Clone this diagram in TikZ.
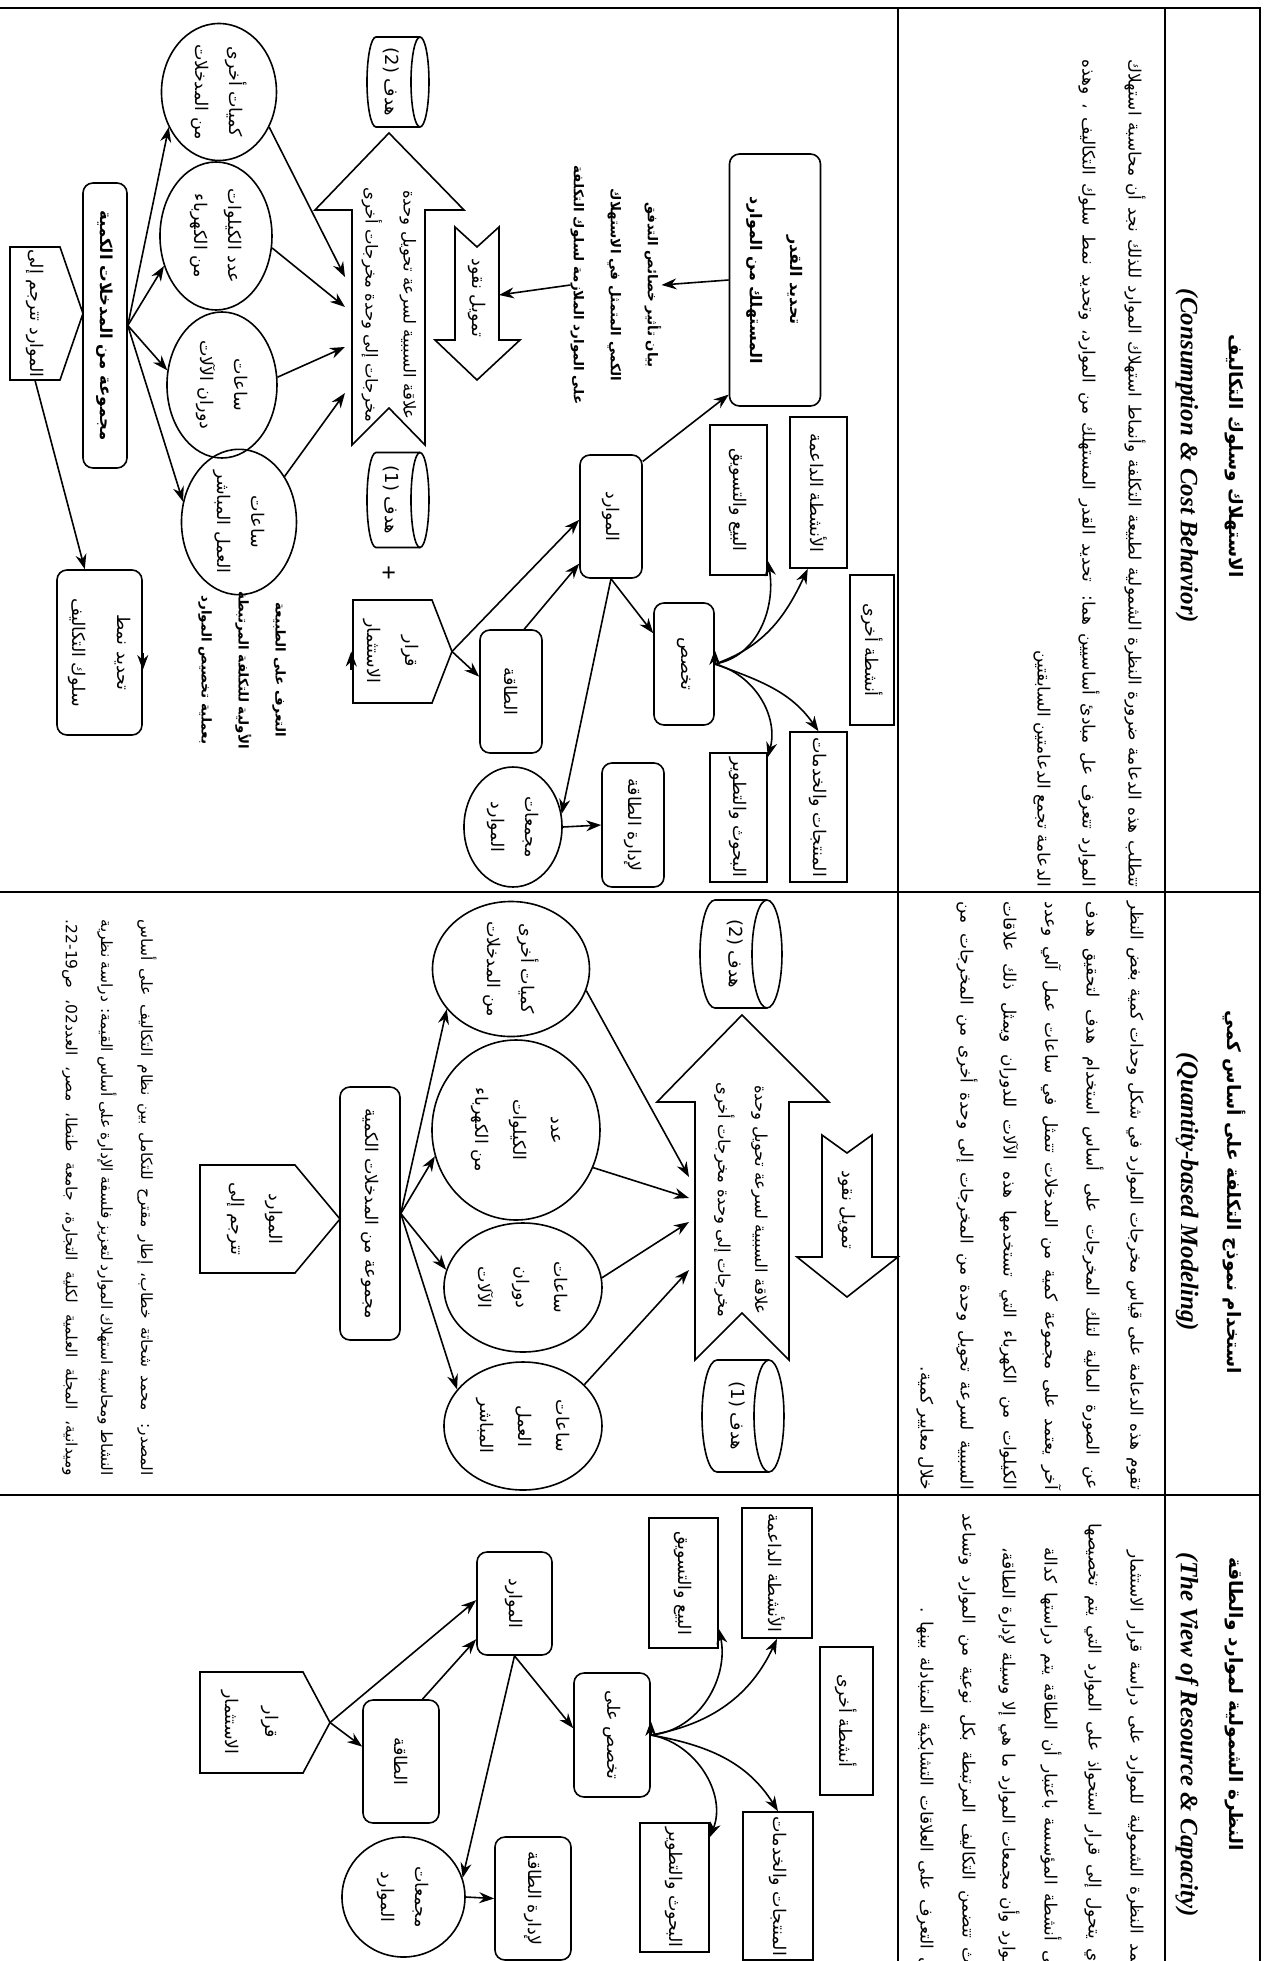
\documentclass[tikz,border=0pt]{standalone}
\usepackage{fontspec}
\setmainfont{Liberation Serif}
\newfontfamily\arabicfont[Script=Arabic]{DejaVu Sans}
\TeXXeTstate=1
\usetikzlibrary{arrows.meta,shapes.geometric,calc}
\newcommand\AR[1]{\beginR#1\endR}
\newcommand\Flab{\arabicfont\fontsize{17.5}{34}\selectfont}
\newcommand\Fthree{\arabicfont\fontsize{17.5}{38}\selectfont}
\newcommand\Fpar{\arabicfont\fontsize{17}{20}\selectfont}
\newcommand\Fnote{\arabicfont\fontsize{15.5}{18}\selectfont}
\newcommand\Ftit{\arabicfont\bfseries\fontsize{18.5}{22}\selectfont}
\newcommand\Feng{\rmfamily\bfseries\itshape\fontsize{25}{28}\selectfont}
\newcommand\Fbld{\arabicfont\bfseries\fontsize{13.5}{37}\selectfont}
\newcommand\Fcyl{\arabicfont\fontsize{18}{20}\selectfont}
\tikzset{
  shp/.style={line width=1.6pt, line join=miter},
  tline/.style={line width=2.2pt},
  arr/.style={line width=1.6pt, -{Stealth[length=15pt,width=11pt]}},
  rbox/.style={draw, line width=1.6pt, rounded corners=10pt, inner sep=1pt, align=center, font=\Flab},
  sbox/.style={draw, line width=1.6pt, inner sep=1pt, align=center, font=\Flab},
  ebox/.style={draw, ellipse, line width=1.6pt, inner sep=0pt, align=center, font=\Flab},
  tbox/.style={inner sep=0pt, align=center, font=\Flab},
  ptxt/.style={inner sep=0pt, font=\Fpar},
}
\begin{document}
\begin{tikzpicture}[x=1pt,y=1pt]
\useasboundingbox (-1267,0) rectangle (0,-1961);
\fill[white] (-1267,0) rectangle (0,-1961);
\clip (-1267,0) rectangle (0,-1961);
\begin{scope}[rotate=-90, transform shape]
% ---------------- table ----------------
\draw[tline] (8,-1300) -- (8,-7) -- (2000,-7);
\draw[tline] (8,-102) -- (2000,-102);
\draw[tline] (8,-369) -- (2000,-369);
\draw[tline] (892,-7) -- (892,-1300);
\draw[tline] (1495,-7) -- (1495,-1300);
% ---------------- headers ----------------
\node[font=\Ftit] (t1) at (456,-33) {\AR{الاستهلاك وسلوك التكاليف}};
\node[font=\Feng] (e1) at (456,-80) {(Consumption \& Cost Behavior)};
\node[font=\Ftit] (t2) at (1192,-33) {\AR{استخدام نموذج التكلفة على أساس كمي}};
\node[font=\Feng] (e2) at (1192,-80) {(Quantity-based Modeling)};
\node[font=\Ftit] (t3) at (1704,-33) {\AR{النظرة الشمولية لموارد والطاقة}};
\node[font=\Feng] (e3) at (1735,-80) {(The View of Resource \& Capacity)};
% ---------------- descriptions ----------------
\node[ptxt,anchor=east] (s1a) at (887,-132) {\hbox to 827pt{\AR{تتطلب هذه الدعامة ضرورة النظرة الشمولية لطبيعة التكلفة وأنماط استهلاك الموارد للذلك نجد أن محاسبة استهلاك}}};
\node[ptxt,anchor=east] (s1b) at (887,-178) {\hbox to 827pt{\AR{الموارد تتعرف عل مبادئ أساسيين هما: تحديد القدر المستهلك من الموارد، وتحديد نمط سلوك التكاليف ، وهذه}}};
\node[ptxt,anchor=east] (s1c) at (887,-225) {\AR{الدعامة تجمع الدعامتين السابقتين}};
\node[ptxt,anchor=east] (s2a) at (1490,-132) {\hbox to 588pt{\AR{تقوم هذه الدعامة على قياس مخرجات الموارد في شكل وحدات كمية بغض النظر}}};
\node[ptxt,anchor=east] (s2b) at (1490,-174) {\hbox to 588pt{\AR{عن الصورة المالية لتلك المخرجات على أساس استخدام هدف لتحقيق هدف}}};
\node[ptxt,anchor=east] (s2c) at (1490,-216) {\hbox to 588pt{\AR{آخر يعتمد على مجموعة كمية من المدخلات تتمثل في ساعات عمل آلي وعدد}}};
\node[ptxt,anchor=east] (s2d) at (1490,-258) {\hbox to 588pt{\AR{الكيلوات من الكهرباء التي تستخدمها هذه الآلات للدوران ويمثل ذلك علاقات}}};
\node[ptxt,anchor=east] (s2e) at (1490,-300) {\hbox to 588pt{\AR{السببية لسرعة تحويل وحدة من المخرجات إلى وحدة أخرى من المخرجات من}}};
\node[ptxt,anchor=east] (s2f) at (1490,-342) {\AR{خلال معايير كمية.}};
\node[ptxt,anchor=west] (s3a) at (1550,-132) {\hbox to 430pt{\AR{تعتمد النظرة الشمولية للموارد على دراسة قرار الاستثمار}}};
\node[ptxt,anchor=west] (s3b) at (1523,-174) {\hbox to 457pt{\AR{الذي يتحول إلى قرار استحواذ على الموارد التي يتم تخصيصها}}};
\node[ptxt,anchor=west] (s3c) at (1547,-216) {\hbox to 433pt{\AR{على أنشطة المؤسسة باعتبار أن الطاقة يتم دراستها كدالة}}};
\node[ptxt,anchor=west] (s3d) at (1547,-258) {\hbox to 433pt{\AR{للموارد وأن مجمعات الموارد ما هي إلا وسيلة لإدارة الطاقة،}}};
\node[ptxt,anchor=west] (s3e) at (1513,-300) {\hbox to 467pt{\AR{حيث تتضمن التكاليف المرتبطة بكل نوعية من الموارد وتساعد}}};
\node[ptxt,anchor=west] (s3f) at (1607,-342) {\hbox to 373pt{\AR{في التعرف على العلاقات التشابكية المتبادلة بينها .}}};
% ======================= SECTION 1 diagram =======================
\node[rbox, font=\arabicfont\bfseries\fontsize{16}{40}\selectfont, minimum width=252pt, minimum height=91pt] (A1) at (280,-492) {\AR{تحديد القدر}\\\AR{المستهلك من الموارد}};
\node[tbox, font=\Fbld] (B1) at (285,-651) {\AR{بيان تأثير خصائص التدفق}\\\AR{الكمي المتمثل في الاستهلاك}\\\AR{على الموارد الملازمة لسلوك التكلفة}};
% money arrow
\draw[shp] (227,-768) -- (340,-768) -- (340,-747) -- (380,-790) -- (340,-832) -- (340,-812) -- (227,-812) -- (247,-790) -- cycle;
\node[tbox] (T1) at (298,-790) {\AR{تمويل نقود}};
\coordinate (T1n) at (295,-768);
% big arrow
\draw[shp] (133,-878) -- (210,-803) -- (210,-842) -- (445,-842) -- (408,-878) -- (445,-915) -- (210,-915) -- (210,-952) -- cycle;
\node[tbox, font=\arabicfont\fontsize{16.5}{38}\selectfont] (C1) at (305,-878) {\AR{علاقة السببية لسرعة تحويل وحدة}\\\AR{مخرجات إلى وحدة مخرجات أخرى}};
\coordinate (c1a) at (277,-922);
\coordinate (c1b) at (307,-922);
\coordinate (c1c) at (347,-922);
\coordinate (c1d) at (393,-922);
% cylinders
\draw[shp] (37,-847) -- (37,-891) arc[start angle=180,end angle=360,x radius=45,y radius=9] -- (127,-847);
\draw[shp] (82,-847) ellipse[x radius=45,y radius=9];
\node[tbox,font=\Fcyl] (D2a) at (82,-876) {\AR{هدف \beginL(2)\endL}};
\draw[shp] (452.5,-847) -- (452.5,-891) arc[start angle=180,end angle=360,x radius=47.5,y radius=9] -- (547.5,-847);
\draw[shp] (500,-847) ellipse[x radius=47.5,y radius=9];
\node[tbox,font=\Fcyl] (D1a) at (500,-876) {\AR{هدف \beginL(1)\endL}};
\node[font=\bfseries\fontsize{26}{26}\selectfont, inner sep=0pt] (plus) at (573,-879) {+};
% decision pentagon
\draw[shp] (600,-914) -- (600,-835) -- (651.5,-815) -- (703,-835) -- (703,-914) -- cycle;
\node[tbox, minimum width=103pt, minimum height=79pt, font=\arabicfont\fontsize{17.5}{38}\selectfont] (G1) at (651.5,-876) {\AR{قرار}\\\AR{الاستثمار}};
\coordinate (G1t) at (651.5,-815);
\node[rbox, minimum width=123pt, minimum height=62pt] (H1) at (691.5,-756) {\AR{الطاقة}};
\node[rbox, minimum width=123pt, minimum height=62pt] (I1) at (516.5,-656) {\AR{الموارد}};
\node[rbox, minimum width=122pt, minimum height=60pt] (J1) at (664,-583) {\AR{تخصص}};
\node[ebox, minimum width=120pt, minimum height=98pt] (K1) at (827,-754) {\AR{مجمعات}\\\AR{الموارد}};
\node[rbox, minimum width=124pt, minimum height=62pt] (L1) at (825,-634) {\AR{لإدارة الطاقة}};
\node[sbox, minimum width=151pt, minimum height=57pt] (M1a) at (492.5,-448.5) {\AR{الأنشطة الداعمة}};
\node[sbox, minimum width=150pt, minimum height=57pt] (M1b) at (500,-528.5) {\AR{البيع والتسويق}};
\node[sbox, minimum width=150pt, minimum height=44pt] (M1c) at (650,-395) {\AR{أنشطة أخرى}};
\node[sbox, minimum width=129pt, minimum height=57pt] (M1d) at (817.5,-528.5) {\AR{البحوث والتطوير}};
\node[sbox, minimum width=150pt, minimum height=57pt] (M1e) at (807,-448.5) {\AR{المنتجات والخدمات}};
% lower-left group
\node[rbox, font=\arabicfont\bfseries\fontsize{16.5}{20}\selectfont, minimum width=285pt, minimum height=44pt] (N1) at (325.5,-1162) {\AR{مجموعة من المدخلات الكمية}};
\draw[shp] (247,-1257) -- (247,-1207) -- (313.5,-1184) -- (380,-1207) -- (380,-1257) -- cycle;
\node[tbox, minimum width=133pt, minimum height=50pt] (P1) at (313.5,-1232) {\AR{الموارد تترجم إلى}};
\node[rbox, minimum width=165pt, minimum height=85pt, font=\arabicfont\fontsize{17.5}{45}\selectfont] (Q1) at (652.5,-1167.5) {\AR{تحديد نمط}\\\AR{سلوك التكاليف}};
\node[tbox, font=\Fbld] (R1) at (670,-1025) {\AR{التعرف على الطبيعة}\\\AR{الأولية للتكلفة المرتبطة}\\\AR{بعملية تخصيص الموارد}};
\node[ebox, minimum width=137pt, minimum height=115pt] (E1a) at (92,-1048) {\AR{كميات أخرى}\\\AR{من المدخلات}};
\node[ebox, minimum width=148pt, minimum height=112pt] (E1b) at (236,-1051) {\AR{عدد الكيلوات}\\\AR{من الكهرباء}};
\node[ebox, minimum width=146pt, minimum height=110pt] (E1c) at (385,-1045) {\AR{ساعات}\\\AR{دوران الآلات}};
\node[ebox, minimum width=120pt, minimum height=115pt] (E1d) at (522,-1028) {\AR{ساعات}\\\AR{العمل المباشر}};
% section 1 connectors
\draw[arr] (A1.south) -- (B1.north);
\draw[arr] (B1.south) -- (T1n);
\draw[arr] (I1.150) -- (A1.-22);
\draw[arr] (I1.east) -- (J1.-135);
\draw[arr] (I1.east) -- (K1.105);
\draw[arr] (H1.168) -- (I1.-34);
\draw[arr] (G1t) -- (H1.-115);
\draw[arr] (G1t) -- (I1.-84);
\draw[arr] (J1.north) -- (J1.north -| M1c.south);
\draw[arr] (J1.north) to[out=109,in=-25] (M1a.-8);
\draw[arr] (J1.north) to[out=100,in=10] ($(M1b.north east)+(-15,0)$);
\draw[arr] (J1.north) to[out=75,in=165] ($(M1d.north west)+(5,0)$);
\draw[arr] (J1.north) to[out=70,in=-145] (M1e.west);
\draw[arr] (K1.north) -- (L1.south);
\draw[arr] (P1.east) -- (Q1.190);
\draw[arr] (Q1.north) -- (Q1.north -| R1.south);
\draw[arr] (G1.south -| R1.north) -- (G1.south);
\draw[arr] (N1.north) -- (E1a.-55);
\draw[arr] (N1.north) -- (E1b.-60);
\draw[arr] (N1.north) -- (E1c.-105);
\draw[arr] (N1.north) -- (E1d.-110);
\draw[arr] (E1a.55) -- (c1a);
\draw[arr] (E1b.78) -- (c1b);
\draw[arr] (E1c.98) -- (c1c);
\draw[arr] (E1d.135) -- (c1d);
% ======================= SECTION 2 diagram =======================
\draw[shp] (900,-500) -- (900,-552) arc[start angle=180,end angle=360,x radius=54,y radius=15] -- (1008,-500);
\draw[shp] (954,-500) ellipse[x radius=54,y radius=15];
\node[tbox,font=\Fcyl] (D2b) at (954,-532) {\AR{هدف \beginL(2)\endL}};
\draw[shp] (1360,-498) -- (1360,-550) arc[start angle=180,end angle=360,x radius=56,y radius=15] -- (1472,-498);
\draw[shp] (1416,-498) ellipse[x radius=56,y radius=15];
\node[tbox,font=\Fcyl] (D1b) at (1416,-530) {\AR{هدف \beginL(1)\endL}};
\draw[shp] (1015,-525) -- (1102,-438) -- (1102,-478) -- (1360,-478) -- (1313,-525) -- (1360,-572) -- (1102,-572) -- (1102,-610) -- cycle;
\node[tbox, font=\arabicfont\fontsize{16.5}{37}\selectfont] (C2) at (1200,-526) {\AR{علاقة السببية لسرعة تحويل وحدة}\\\AR{مخرجات إلى وحدة مخرجات أخرى}};
\coordinate (c2a) at (1177,-578);
\coordinate (c2b) at (1198,-578);
\coordinate (c2c) at (1222,-578);
\coordinate (c2d) at (1270,-578);
\draw[shp] (1135,-395) -- (1257,-395) -- (1257,-369) -- (1297,-420) -- (1257,-470) -- (1257,-445) -- (1135,-445) -- (1153,-420) -- cycle;
\node[tbox] (T2) at (1210,-420) {\AR{تمويل نقود}};
\draw[shp] (1165,-1067) -- (1165,-972) -- (1219,-927) -- (1273,-972) -- (1273,-1067) -- cycle;
\node[tbox, font=\Fthree] (P2) at (1219,-1012) {\AR{الموارد}\\\AR{تترجم إلى}};
\node[rbox, minimum width=253pt, minimum height=60pt] (N2) at (1213.5,-897) {\AR{مجموعة من المدخلات الكمية}};
\node[ebox, minimum width=128pt, minimum height=157pt] (E2a) at (969,-756) {\AR{كميات أخرى}\\\AR{من المدخلات}};
\node[ebox, minimum width=180pt, minimum height=168pt, font=\Fthree] (E2b) at (1130,-751) {\AR{عدد}\\\AR{الكيلوات}\\\AR{من الكهرباء}};
\node[ebox, minimum width=129pt, minimum height=158pt, font=\Fthree] (E2c) at (1287.5,-744) {\AR{ساعات}\\\AR{دوران}\\\AR{الآلات}};
\node[ebox, minimum width=128pt, minimum height=158pt, font=\Fthree] (E2d) at (1426,-744) {\AR{ساعات}\\\AR{العمل}\\\AR{المباشر}};
\draw[arr] (N2.north) -- (E2a.-58);
\draw[arr] (N2.north) -- (E2b.-72);
\draw[arr] (N2.north) -- (E2c.-103);
\draw[arr] (N2.north) -- (E2d.-119);
\draw[arr] (E2a.74) -- (c2a);
\draw[arr] (E2b.64) -- (c2b);
\draw[arr] (E2c.97) -- (c2c);
\draw[arr] (E2d.124) -- (c2d);
% source note
\node[ptxt,font=\Fnote,anchor=east] (n1) at (1476,-1120) {\hbox to 556pt{\AR{المصدر: محمد شحاتة خطاب، إطار مقترح للتكامل بين نظام التكاليف على أساس}}};
\node[ptxt,font=\Fnote,anchor=east] (n2) at (1476,-1160) {\hbox to 556pt{\AR{النشاط ومحاسبة استهلاك الموارد لتعزيز فلسفة الإدارة على أساس القيمة: دراسة نظرية}}};
\node[ptxt,font=\Fnote,anchor=east] (n3) at (1476,-1197) {\hbox to 556pt{\AR{وميدانية، المجلة العلمية لكلية التجارة، جامعة طنطا، مصر، العدد\hbox{02}، ص\beginL\hbox{.}\hbox{22}\hbox{-}\hbox{19}\endL}}};
% ======================= SECTION 3 diagram =======================
\draw[shp] (1672,-1067) -- (1672,-964) -- (1722.5,-937) -- (1773,-964) -- (1773,-1067) -- cycle;
\node[tbox, font=\arabicfont\fontsize{17.5}{40}\selectfont] (G3) at (1722.5,-1017) {\AR{قرار}\\\AR{الاستثمار}};
\coordinate (G3t) at (1722.5,-937);
\node[rbox, minimum width=123pt, minimum height=76pt] (H3) at (1761.5,-866) {\AR{الطاقة}};
\node[rbox, minimum width=103pt, minimum height=75pt] (I3) at (1603.5,-752.5) {\AR{الموارد}};
\node[rbox, minimum width=124pt, minimum height=76pt] (J3) at (1735,-655) {\AR{تخصص على}};
\node[ebox, minimum width=120pt, minimum height=123pt] (K3) at (1897,-863.5) {\AR{مجمعات}\\\AR{الموارد}};
\node[rbox, minimum width=123pt, minimum height=76pt] (L3) at (1898.5,-734) {\AR{لإدارة الطاقة}};
\node[sbox, minimum width=130pt, minimum height=70pt] (M3a) at (1573,-490) {\AR{الأنشطة الداعمة}};
\node[sbox, minimum width=130pt, minimum height=69pt] (M3b) at (1583,-583.5) {\AR{البيع والتسويق}};
\node[sbox, minimum width=148pt, minimum height=53pt] (M3c) at (1721,-420.5) {\AR{أنشطة أخرى}};
\node[sbox, minimum width=129pt, minimum height=69pt] (M3d) at (1887.5,-592.5) {\AR{البحوث والتطوير}};
\node[sbox, minimum width=148pt, minimum height=70pt] (M3e) at (1886,-489) {\AR{المنتجات والخدمات}};
\draw[arr] (G3t) -- (H3.-111);
\draw[arr] (G3t) -- (I3.-95);
\draw[arr] (H3.161) -- (I3.-47);
\draw[arr] (I3.east) -- (J3.-100);
\draw[arr] (I3.east) -- (K3.108);
\draw[arr] (K3.north) -- (L3.south);
\draw[arr] (J3.north) -- (J3.north -| M3c.south);
\draw[arr] (J3.north) to[out=100,in=-25] (M3a.east);
\draw[arr] (J3.north) to[out=95,in=12] ($(M3b.north east)+(-20,0)$);
\draw[arr] (J3.north) to[out=80,in=158] ($(M3d.north west)+(15,0)$);
\draw[arr] (J3.north) to[out=80,in=-148] (M3e.west);
\end{scope}
\end{tikzpicture}
\end{document}
